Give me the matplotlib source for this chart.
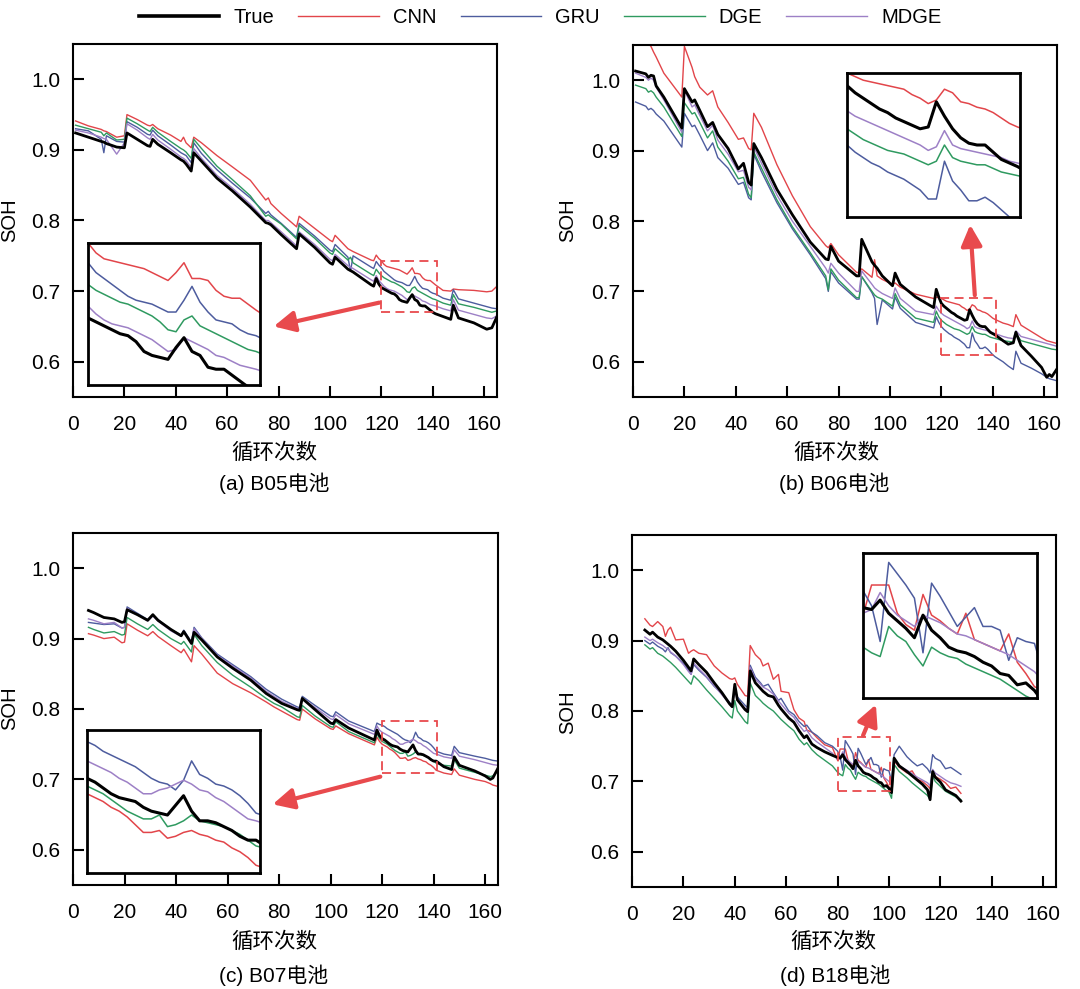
import matplotlib
matplotlib.use("Agg")
import matplotlib.pyplot as plt
from matplotlib.lines import Line2D
from matplotlib.patches import Rectangle, FancyArrowPatch

plt.rcParams['font.family'] = ['Liberation Sans', 'Noto Sans CJK SC', 'DejaVu Sans']

#%% data
series_names = ['True', 'CNN', 'GRU', 'DGE', 'MDGE']
zoom_x = list(range(120, 142))

# (a) B05
a_x = [1, 6, 11, 12, 13, 17, 20, 21, 25, 29, 30, 31, 33, 38, 42, 43, 44, 46, 47, 50,
       56, 62, 69, 75, 76, 77, 81, 87, 88, 94, 100, 101, 102, 107, 108, 109, 116, 117, 118, 119] \
      + zoom_x + [144, 147, 148, 150, 156, 161, 163, 165]
a_true = [.924, .918, .912, .911, .909, .904, .903, .924, .915, .906, .905, .915, .908, .896, .886, .884, .880, .870, .896, .884,
          .860, .842, .819, .797, .796, .794, .780, .760, .781, .762, .740, .738, .748, .731, .729, .727, .709, .707, .718, .710,
          .705, .703, .701, .699, .697, .696, .693, .688, .686, .685, .684, .690, .695, .688, .686, .680, .679, .679, .676, .673, .670, .668,
          .664, .660, .680, .662, .655, .646, .648, .664]
a_cnn = [.941, .934, .929, .927, .926, .918, .920, .950, .943, .935, .934, .936, .930, .921, .912, .918, .910, .903, .918, .910,
         .892, .876, .857, .829, .832, .824, .810, .791, .806, .789, .772, .770, .779, .760, .758, .756, .744, .743, .751, .746,
         .743, .738, .735, .734, .733, .732, .731, .730, .728, .726, .724, .728, .733, .725, .725, .724, .719, .716, .715, .715, .712, .709,
         .701, .700, .703, .702, .701, .699, .700, .707]
a_gru = [.930, .927, .915, .896, .920, .912, .911, .940, .932, .922, .921, .928, .920, .907, .896, .894, .892, .882, .910, .895,
         .872, .853, .832, .810, .813, .808, .796, .776, .796, .778, .758, .756, .766, .748, .728, .750, .734, .732, .742, .737,
         .733, .728, .725, .722, .719, .716, .714, .713, .712, .710, .708, .708, .714, .721, .713, .708, .704, .703, .702, .699, .697, .696,
         .690, .687, .702, .689, .683, .678, .676, .675]
a_dge = [.935, .930, .925, .920, .924, .914, .915, .945, .937, .928, .926, .932, .925, .912, .902, .900, .897, .888, .915, .902,
         .877, .858, .835, .806, .808, .805, .795, .774, .793, .775, .754, .752, .760, .744, .748, .740, .724, .722, .731, .726,
         .722, .719, .717, .715, .713, .712, .710, .708, .706, .703, .699, .698, .704, .706, .701, .699, .697, .695, .693, .691, .689, .688,
         .683, .680, .695, .682, .677, .672, .670, .672]
a_mdge = [.928, .924, .918, .916, .915, .894, .910, .937, .928, .917, .915, .922, .914, .901, .890, .888, .885, .875, .902, .888,
          .864, .846, .823, .800, .800, .797, .784, .764, .784, .766, .745, .743, .752, .736, .734, .732, .716, .714, .722, .715,
          .711, .707, .704, .702, .701, .700, .698, .696, .694, .691, .688, .689, .695, .693, .691, .689, .686, .685, .683, .681, .680, .679,
          .675, .672, .688, .673, .667, .662, .661, .665]

# (b) B06
b_x = [1, 5, 6, 7, 8, 9, 12, 19, 20, 23, 24, 26, 29, 31, 33, 37, 41, 43, 45, 46,
       47, 50, 56, 62, 69, 75, 76, 77, 80, 87, 88, 89, 93, 94, 95, 97, 101, 102, 104, 110,
       117, 118, 119] + zoom_x + [144, 146, 148, 149, 151, 155, 159, 161, 162, 163, 165]
b_true = [1.013, 1.009, 1.004, 1.007, 1.006, .992, .976, .932, .988, .969, .972, .957, .934, .940, .923, .903, .874, .882, .855, .851,
          .910, .890, .845, .809, .770, .746, .745, .764, .743, .722, .722, .774, .742, .737, .733, .722, .708, .726, .710, .692,
          .677, .703, .692,
          .683, .679, .676, .673, .670, .668, .665, .663, .661, .659, .660, .674, .666, .659, .654, .651, .650, .650, .646, .642, .640, .638,
          .630, .625, .627, .642, .623, .608, .592, .578, .582, .579, .590]
b_cnn = [1.07, 1.06, 1.052, 1.048, 1.040, 1.033, 1.010, .976, 1.048, 1.018, 1.005, .990, .979, .985, .962, .940, .916, .918, .903, .901,
         .953, .933, .880, .836, .792, .765, .762, .768, .752, .727, .727, .732, .720, .745, .722, .717, .710, .712, .706, .696,
         .690, .692, .691,
         .690, .688, .686, .685, .684, .683, .682, .681, .678, .676, .673, .675, .681, .679, .674, .673, .671, .670, .668, .665, .662, .660,
         .655, .653, .650, .667, .652, .643, .634, .630, .629, .628, .626]
b_gru = [.969, .963, .958, .960, .957, .952, .942, .905, .953, .934, .936, .922, .900, .911, .890, .875, .852, .855, .833, .830,
         .895, .870, .826, .789, .752, .718, .700, .728, .712, .689, .689, .721, .698, .690, .653, .688, .675, .692, .676, .656,
         .648, .664, .656,
         .650, .646, .643, .640, .638, .635, .633, .631, .628, .625, .620, .620, .641, .630, .625, .619, .619, .621, .618, .614, .610, .607,
         .600, .594, .589, .615, .598, .591, .583, .578, .576, .575, .573]
b_dge = [.993, .988, .983, .985, .982, .976, .962, .920, .968, .952, .954, .940, .918, .928, .905, .885, .860, .862, .838, .833,
         .898, .875, .830, .792, .755, .722, .702, .732, .716, .691, .691, .721, .700, .695, .692, .689, .679, .697, .681, .662,
         .656, .672, .664,
         .659, .656, .653, .651, .649, .647, .646, .645, .643, .641, .639, .641, .650, .643, .641, .640, .639, .639, .637, .635, .634, .633,
         .630, .629, .628, .640, .630, .626, .622, .620, .619, .618, .617]
b_mdge = [1.010, 1.004, 1.000, 1.003, 1.000, .990, .972, .926, .986, .962, .965, .950, .928, .936, .915, .895, .870, .872, .848, .844,
          .905, .882, .837, .800, .764, .733, .726, .740, .726, .700, .700, .729, .710, .705, .702, .697, .690, .705, .690, .672,
          .667, .679, .673,
          .669, .666, .664, .662, .660, .658, .656, .654, .652, .650, .647, .649, .658, .650, .648, .647, .646, .645, .644, .643, .641, .640,
          .636, .634, .633, .644, .636, .632, .628, .626, .625, .624, .622]

# (c) B07
c_x = [6, 8, 12, 16, 19, 20, 21, 25, 29, 31, 33, 38, 42, 43, 46, 47, 50, 56, 62, 69,
       75, 78, 81, 87, 88, 89, 94, 100, 101, 102, 107, 117, 118, 119] \
      + zoom_x + [144, 147, 148, 150, 156, 160, 162, 163, 165]
c_true = [.940, .937, .930, .928, .923, .924, .941, .934, .926, .934, .926, .913, .904, .910, .893, .909, .898, .874, .858, .841,
          .822, .815, .808, .799, .798, .815, .799, .780, .779, .785, .773, .756, .770, .762,
          .758, .756, .753, .750, .748, .747, .746, .743, .741, .740, .739, .744, .749, .741, .736, .736, .735, .733, .731, .728, .726, .726,
          .718, .714, .732, .720, .712, .705, .700, .702, .716]
c_cnn = [.907, .905, .900, .902, .894, .895, .921, .912, .904, .910, .903, .890, .880, .885, .867, .890, .878, .851, .836, .823,
         .810, .803, .797, .785, .784, .800, .786, .772, .771, .776, .765, .749, .760, .754,
         .750, .748, .746, .743, .741, .738, .734, .730, .730, .731, .727, .728, .730, .731, .729, .728, .726, .725, .722, .720, .717, .713,
         .709, .707, .715, .706, .700, .697, .694, .692, .690]
c_gru = [.923, .922, .920, .921, .915, .916, .945, .936, .927, .934, .927, .913, .905, .912, .895, .916, .901, .878, .863, .846,
         .828, .821, .814, .803, .802, .818, .805, .790, .789, .796, .783, .768, .780, .778,
         .777, .775, .772, .770, .768, .766, .764, .761, .758, .756, .755, .752, .757, .767, .760, .758, .755, .754, .752, .749, .745, .740,
         .736, .734, .747, .738, .733, .730, .728, .727, .726]
c_dge = [.916, .913, .908, .910, .905, .906, .930, .921, .913, .920, .913, .900, .892, .896, .881, .906, .890, .866, .848, .831,
         .815, .808, .803, .789, .788, .805, .790, .775, .774, .782, .768, .752, .765, .758,
         .754, .752, .750, .747, .744, .741, .739, .737, .737, .739, .733, .734, .736, .739, .736, .735, .734, .733, .731, .729, .726, .723,
         .720, .719, .728, .716, .710, .706, .704, .705, .712]
c_mdge = [.928, .926, .921, .923, .915, .916, .943, .934, .925, .932, .925, .911, .903, .910, .895, .914, .900, .876, .861, .844,
          .825, .818, .811, .801, .800, .815, .802, .786, .785, .792, .779, .764, .776, .770,
          .767, .765, .763, .761, .758, .756, .753, .750, .750, .752, .753, .755, .757, .755, .752, .751, .748, .746, .743, .740, .737, .736,
          .732, .730, .742, .733, .728, .724, .722, .721, .720]

# (d) B18
d_x = [5, 7, 8, 10, 12, 13, 14, 15, 17, 20, 22, 23, 24, 26, 29, 32, 35, 38, 39, 40,
       41, 44, 45, 46, 48, 50, 51, 53, 55, 57, 58, 61, 63, 65, 67, 68, 70, 72, 75, 78] \
      + list(range(80, 101)) + [101, 102, 104, 107, 109, 111, 113, 115, 116, 117, 118, 120, 122, 124, 126, 128]
d_true = [.915, .909, .912, .905, .901, .898, .895, .892, .885, .872, .862, .857, .874, .866, .855, .840, .826, .810, .806, .838,
          .816, .802, .799, .857, .840, .832, .828, .822, .820, .808, .803, .790, .784, .772, .762, .765, .753, .748, .742, .737,
          .734, .733, .738, .731, .727, .723, .718, .730, .722, .718, .713, .711, .710, .708, .705, .703, .699, .698, .693, .694, .690,
          .684, .733, .722, .714, .708, .702, .696, .688, .674, .714, .706, .699, .688, .684, .680, .672]
d_cnn = [.931, .922, .920, .927, .920, .906, .915, .919, .901, .902, .882, .885, .887, .882, .880, .864, .854, .846, .845, .847,
         .838, .822, .821, .893, .880, .873, .864, .868, .845, .852, .828, .826, .802, .790, .785, .773, .770, .762, .752, .748,
         .730, .746, .746, .746, .731, .725, .722, .741, .730, .727, .723, .720, .731, .717, .715, .713, .711, .720, .705, .699, .692,
         .690, .729, .720, .712, .715, .703, .700, .694, .690, .712, .707, .703, .698, .690, .692, .683]
d_gru = [.900, .895, .898, .892, .888, .884, .890, .883, .878, .868, .858, .852, .866, .858, .848, .835, .825, .812, .808, .830,
         .820, .808, .805, .865, .848, .840, .835, .838, .826, .815, .818, .800, .795, .785, .778, .780, .770, .765, .755, .750,
         .743, .735, .716, .758, .752, .746, .739, .710, .747, .740, .732, .724, .729, .734, .724, .724, .722, .706, .718, .716, .715,
         .700, .738, .750, .735, .728, .722, .725, .718, .712, .738, .733, .729, .718, .720, .715, .710]
d_dge = [.894, .888, .890, .882, .878, .875, .872, .869, .862, .850, .842, .838, .850, .843, .830, .818, .806, .793, .790, .815,
         .800, .785, .782, .840, .822, .815, .811, .805, .800, .792, .788, .778, .772, .760, .752, .755, .745, .738, .730, .722,
         .713, .710, .708, .724, .719, .716, .709, .703, .713, .710, .708, .707, .704, .702, .700, .698, .696, .693, .690, .687, .685,
         .676, .724, .714, .705, .698, .692, .686, .680, .674, .708, .700, .693, .686, .682, .678, .674]
d_mdge = [.905, .900, .902, .897, .893, .890, .888, .884, .878, .866, .856, .852, .868, .860, .849, .836, .823, .810, .806, .832,
          .815, .804, .802, .862, .845, .838, .834, .830, .824, .814, .810, .797, .791, .780, .771, .773, .762, .756, .748, .740,
          .731, .733, .742, .735, .730, .727, .724, .730, .728, .726, .723, .720, .719, .717, .715, .713, .711, .709, .706, .703, .700,
          .695, .730, .722, .716, .711, .706, .702, .698, .694, .717, .712, .707, .702, .698, .696, .693]

captions = ['(a) B05电池', '(b) B06电池', '(c) B07电池', '(d) B18电池']

#%% styles / layout
W, H = 1080, 989
colors = ['black', '#e2454a', '#4d5c9e', '#2f9a60', '#9d80c6']
widths = [2.0, 1.0, 1.0, 1.0, 1.0]
arrow_red = '#e84a4d'


def frac(x, y):
    return x / W, 1 - y / H


def box(l, t, r, b):
    return [l / W, 1 - b / H, (r - l) / W, (b - t) / H]


panels = [
    dict(x=a_x, ys=[a_true, a_cnn, a_gru, a_dge, a_mdge], ax=box(73, 44, 497, 397),
         ins=box(88, 243, 260, 385), rect=(120, 0.671, 141.5, 0.743),
         arrow=((382, 302), (271, 327)), lab=(274, 453), cap=(274, 483), soh=(10, 220)),
    dict(x=b_x, ys=[b_true, b_cnn, b_gru, b_dge, b_mdge], ax=box(633, 45, 1057, 397),
         ins=box(847, 73, 1020, 217), rect=(120, 0.610, 141.3, 0.690),
         arrow=((975, 298), (970, 222)), lab=(836, 453), cap=(834, 483), soh=(568, 220)),
    dict(x=c_x, ys=[c_true, c_cnn, c_gru, c_dge, c_mdge], ax=box(73, 533, 498, 885),
         ins=box(87, 730, 260, 873), rect=(120, 0.709, 141.5, 0.783),
         arrow=((383, 776), (270, 805)), lab=(274, 942), cap=(274, 975), soh=(10, 708)),
    dict(x=d_x, ys=[d_true, d_cnn, d_gru, d_dge, d_mdge], ax=box(632, 535, 1056, 887),
         ins=box(863, 553, 1037, 698), rect=(80, 0.686, 100.3, 0.763),
         arrow=((862, 738), (877, 702)), lab=(833, 942), cap=(835, 975), soh=(568, 712)),
]

fig = plt.figure(figsize=(W / 100, H / 100), dpi=100)

for p, cap in zip(panels, captions):
    ax = fig.add_axes(p['ax'])
    # models first, True on top
    for k in [1, 2, 3, 4, 0]:
        ax.plot(p['x'], p['ys'][k], color=colors[k], lw=widths[k], zorder=3 if k == 0 else 2)
    ax.set_xlim(0, 165)
    ax.set_ylim(0.55, 1.05)
    ax.set_xticks(range(0, 161, 20))
    ax.set_yticks([0.6, 0.7, 0.8, 0.9, 1.0])
    ax.set_yticklabels(['0.6', '0.7', '0.8', '0.9', '1.0'])
    ax.tick_params(direction='in', length=8, width=1.5, labelsize=15, pad=9)
    ax.tick_params(axis='x', pad=13)
    for s in ax.spines.values():
        s.set_linewidth(1.5)

    x0, y0, x1, y1 = p['rect']
    ax.add_patch(Rectangle((x0, y0), x1 - x0, y1 - y0, fill=False, ec=arrow_red,
                           lw=1.3, ls=(0, (5, 3)), zorder=4))

    ins = fig.add_axes(p['ins'])
    for k in [1, 2, 3, 4, 0]:
        ins.plot(p['x'], p['ys'][k], color=colors[k], lw=widths[k] + (0.2 if k == 0 else 0.1))
    ins.set_xlim(x0, x1)
    ins.set_ylim(y0, y1)
    ins.set_xticks([])
    ins.set_yticks([])
    for s in ins.spines.values():
        s.set_linewidth(2)

    (sx, sy), (ex, ey) = p['arrow']
    fig.add_artist(FancyArrowPatch(frac(sx, sy), frac(ex, ey), transform=fig.transFigure,
                                   arrowstyle='-|>,head_length=0.7,head_width=0.35',
                                   mutation_scale=18, lw=3, color=arrow_red, zorder=10))

    fig.text(*frac(*p['lab']), '循环次数', ha='center', va='center', fontsize=15.5)
    fig.text(*frac(*p['cap']), cap, ha='center', va='center', fontsize=15)
    fig.text(*frac(*p['soh']), 'SOH', ha='center', va='center', rotation=90, fontsize=14.5)

handles = [Line2D([], [], color=c, lw=w + (0.6 if i == 0 else 0)) for i, (c, w) in enumerate(zip(colors, widths))]
fig.legend(handles, series_names, loc='upper center', bbox_to_anchor=(0.5, 1.01), ncol=5,
           frameon=False, fontsize=14.5, handlelength=4.0, handletextpad=0.7, columnspacing=1.2)

fig.savefig('out.png', dpi=100)
